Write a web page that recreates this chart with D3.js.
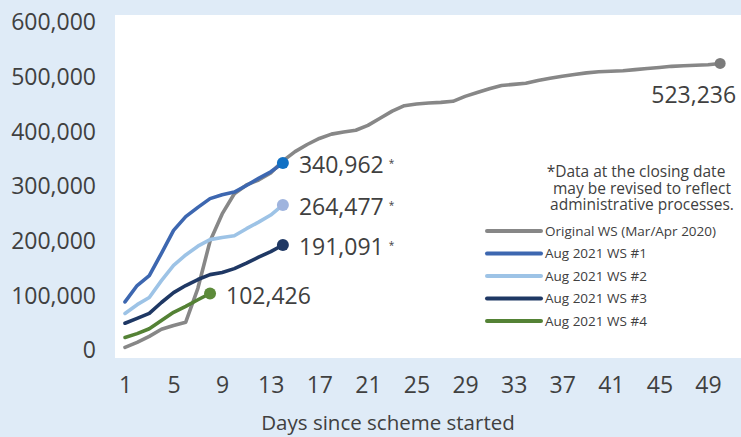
<!DOCTYPE html>
<html>
<head>
<meta charset="utf-8">
<script src="https://cdn.jsdelivr.net/npm/d3@7"></script>
<style>
    body { margin: 0; background: #dfebf7; }
    svg { display: block; font-family: 'Open Sans', sans-serif; }
</style>
</head>
<body>
<div id="chart"></div>
<script>
'use strict';

// Cumulative applications by day since scheme started
const seriesNames = ['Original WS (Mar/Apr 2020)', 'Aug 2021 WS #1', 'Aug 2021 WS #2', 'Aug 2021 WS #3', 'Aug 2021 WS #4'];
const originalWS = [4000, 13000, 24000, 37000, 44000, 50000, 112000, 198000, 248000, 285000,
    301000, 310000, 323000, 345000, 362000, 375000, 386000, 394000, 398000, 401000,
    410000, 423000, 436000, 446000, 449000, 451000, 452000, 454000, 463000, 470000,
    477000, 483000, 485000, 487000, 492000, 496000, 500000, 503000, 506000, 508000,
    509000, 510000, 512000, 514000, 516000, 518000, 519000, 520000, 521000, 523236];
const aug2021WS1 = [87000, 117000, 135000, 176000, 218000, 243000, 260000, 276000, 283000, 288000, 300000, 313000, 325000, 340962];
const aug2021WS2 = [66000, 82000, 95000, 126000, 154000, 173000, 189000, 201000, 205000, 208000, 221000, 233000, 246000, 264477];
const aug2021WS3 = [48000, 57000, 66000, 86000, 104000, 117000, 128000, 137000, 141000, 148000, 158000, 169000, 179000, 191091];
const aug2021WS4 = [22000, 29000, 38000, 53000, 68000, 79000, 91000, 102426];
const provisional = [false, true, true, true, false]; // closing-date figures marked with *
const xTickLabels = [1, 5, 9, 13, 17, 21, 25, 29, 33, 37, 41, 45, 49];
const yTickLabels = [0, 100000, 200000, 300000, 400000, 500000, 600000];
const noteLines = ['*Data at the closing date', 'may be revised to reflect', 'administrative processes.'];

const lineColors = ['#878787', '#3d67b0', '#9dc3e6', '#1f3864', '#548235'];
const dotColors = ['#7b7b7b', '#1170c4', '#9fb4de', '#1f3864', '#5d8b3a'];

const width = 741, height = 437;
const fmt = d3.format(',');

const svg = d3.select('#chart').append('svg').attr('width', width).attr('height', height);

svg.append('rect').attr('width', width).attr('height', height).attr('fill', '#dfebf7');
svg.append('rect').attr('x', 115).attr('y', 15).attr('width', width - 115).attr('height', 343).attr('fill', '#fff');

const x = d3.scaleLinear().domain([1, 49]).range([125, 708]);
const y = d3.scaleLinear().domain([0, 600000]).range([349.5, 21.5]);

// axes (labels only)
const yAxis = svg.append('g').attr('transform', 'translate(96,0)')
    .call(d3.axisLeft(y).tickValues(yTickLabels).tickFormat(fmt).tickSize(0).tickPadding(0));
const xAxis = svg.append('g').attr('transform', 'translate(0,358)')
    .call(d3.axisBottom(x).tickValues(xTickLabels).tickFormat(d3.format('d')).tickSize(0).tickPadding(19));
[yAxis, xAxis].forEach(function(g) {
    g.select('.domain').remove();
    g.selectAll('text').attr('fill', '#404040').style('font-size', '23px').style('font-family', "'Open Sans', sans-serif");
});
yAxis.selectAll('text').attr('dy', '0.36em');

svg.append('text')
    .attr('x', 388).attr('y', 430)
    .attr('text-anchor', 'middle')
    .attr('fill', '#404040')
    .style('font-size', '20.5px')
    .text('Days since scheme started');

// lines
const allSeries = [originalWS, aug2021WS1, aug2021WS2, aug2021WS3, aug2021WS4];
const line = d3.line().x(function(d, i) { return x(i + 1); }).y(function(d) { return y(d); });

const plot = svg.append('g').attr('class', 'lines');
plot.selectAll('path')
    .data(allSeries)
    .enter().append('path')
    .attr('d', line)
    .attr('fill', 'none')
    .attr('stroke', function(d, i) { return lineColors[i]; })
    .attr('stroke-width', 3.6)
    .attr('stroke-linejoin', 'round')
    .attr('stroke-linecap', 'round');

// end markers
plot.selectAll('circle')
    .data(allSeries)
    .enter().append('circle')
    .attr('cx', function(d) { return x(d.length); })
    .attr('cy', function(d) { return y(d[d.length - 1]); })
    .attr('r', function(d, i) { return i == 0 ? 5.5 : 6; })
    .attr('fill', function(d, i) { return dotColors[i]; });

// end labels
const labels = svg.append('g').attr('class', 'end-labels')
    .selectAll('text')
    .data(allSeries)
    .enter().append('text')
    .attr('fill', '#404040')
    .style('font-size', '23px')
    .attr('dy', '0.36em')
    .attr('text-anchor', function(d, i) { return i == 0 ? 'end' : 'start'; })
    .attr('x', function(d) { return x(d.length) + 16; })
    .attr('y', function(d, i) { return i == 0 ? y(d[d.length - 1]) + 31 : y(d[d.length - 1]) + 2; });

labels.append('tspan').text(function(d) { return fmt(d[d.length - 1]); });
labels.filter(function(d, i) { return provisional[i]; })
    .append('tspan')
    .attr('dx', 5)
    .attr('dy', '-0.6em')
    .style('font-size', '10px')
    .text('*');

// note, one text block
svg.append('text')
    .attr('y', 172)
    .attr('text-anchor', 'middle')
    .attr('fill', '#404040')
    .style('font-size', '15.5px')
    .selectAll('tspan')
    .data(noteLines)
    .enter().append('tspan')
    .attr('x', function(d, i) { return i == 0 ? 636 : 642; })
    .attr('dy', function(d, i) { return i == 0 ? '0.35em' : 16.5; })
    .text(function(d) { return d; });

// legend
const legend = svg.append('g').attr('class', 'legend').attr('transform', 'translate(487,231)');
const legendItem = legend.selectAll('g')
    .data(seriesNames)
    .enter().append('g')
    .attr('transform', function(d, i) { return `translate(0, ${i * 22.5})`; });

legendItem.append('line')
    .attr('x1', 0).attr('x2', 54)
    .attr('stroke', function(d, i) { return lineColors[i]; })
    .attr('stroke-width', 4)
    .attr('stroke-linecap', 'round');

legendItem.append('text')
    .attr('x', 58)
    .attr('dy', '0.35em')
    .attr('fill', '#404040')
    .style('font-size', '13.5px')
    .text(function(d) { return d; });
</script>
</body>
</html>
